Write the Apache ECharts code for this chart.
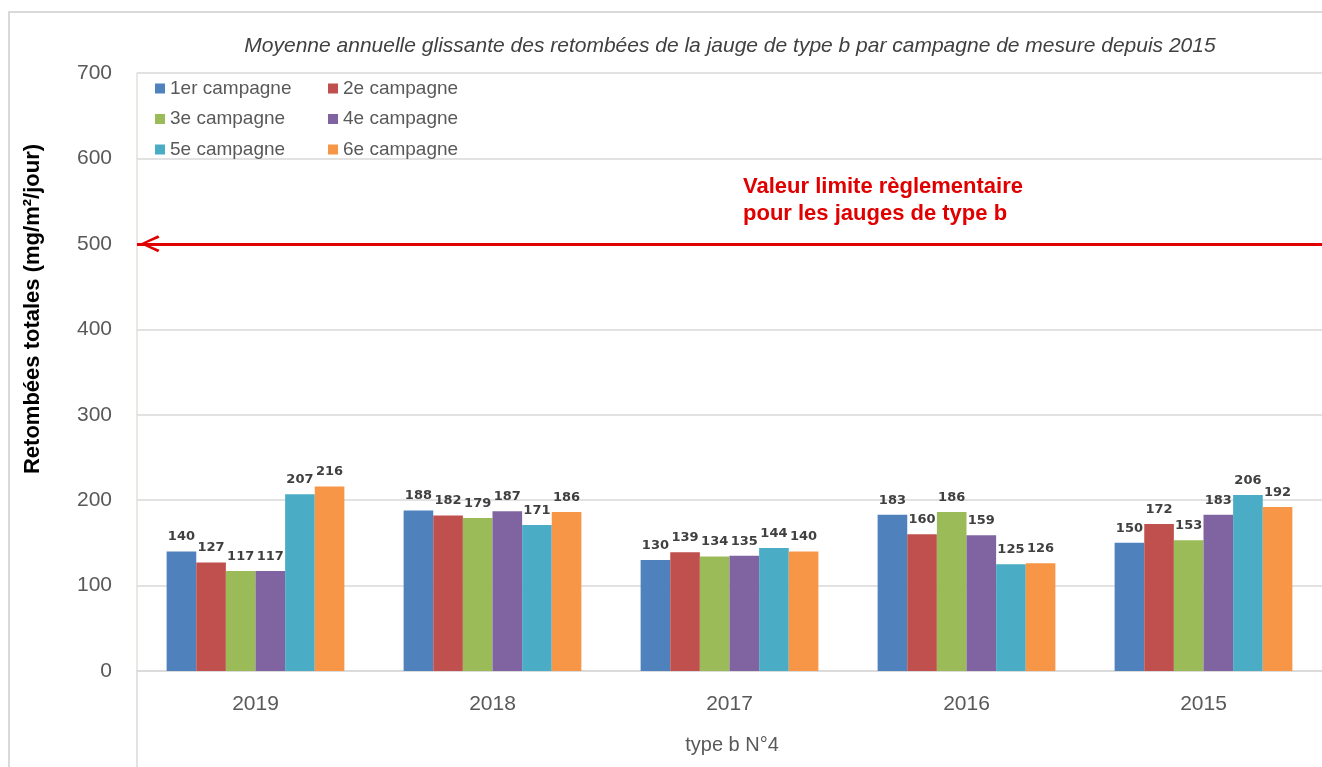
<!DOCTYPE html>
<html>
<head>
<meta charset="utf-8">
<script src="https://cdn.jsdelivr.net/npm/echarts@6/dist/echarts.min.js"></script>
<style>
  html, body { margin: 0; padding: 0; background: #fff; }
  #main { width: 1322px; height: 767px; }
</style>
</head>
<body>
<div id="main"></div>
<script>
// données
var annees = ['2019', '2018', '2017', '2016', '2015'];
var campagnes = ['1er campagne', '2e campagne', '3e campagne', '4e campagne', '5e campagne', '6e campagne'];
var couleurs = ['#4f81bd', '#c0504d', '#9bbb59', '#8064a2', '#4bacc6', '#f79646'];
var camp1 = [140, 188, 130, 183, 150];
var camp2 = [127, 182, 139, 160, 172];
var camp3 = [117, 179, 134, 186, 153];
var camp4 = [117, 187, 135, 159, 183];
var camp5 = [207, 171, 144, 125, 206];
var camp6 = [216, 186, 140, 126, 192];
var valeurLimite = 500;
var yTicks = [0, 100, 200, 300, 400, 500, 600, 700];

var myChart = echarts.init(document.getElementById('main'));
var donnees = [camp1, camp2, camp3, camp4, camp5, camp6];

var series = [];
for (var i = 0; i < campagnes.length; i++) {
  var s = {
    name: campagnes[i],
    type: 'bar',
    data: donnees[i],
    barGap: '0%',
    barCategoryGap: '25%',
    itemStyle: { color: couleurs[i] },
    label: {
      show: true,
      position: 'top',
      distance: 8,
      color: '#404040',
      fontFamily: 'DejaVu Sans',
      fontWeight: 'bold',
      fontSize: 13
    }
  };
  if (i == 0) {
    // ligne de la valeur limite avec flèche ouverte (le point M8.5,-25.5 décale la pointe)
    s.markLine = {
      silent: true,
      symbol: ['path://M8.5,-25.5 M0,18 L8.5,0 L17,18 L14.5,19.5 L8.5,5 L2.5,19.5 Z', 'none'],
      symbolSize: [17, 45],
      label: { show: false },
      lineStyle: { color: '#e00000', width: 3, type: 'solid' },
      data: [{ yAxis: valeurLimite }]
    };
  }
  series.push(s);
}

var legendText = { fontFamily: 'Liberation Sans', fontSize: 19, color: '#595959' };

var option = {
  animation: false,
  title: {
    text: 'Moyenne annuelle glissante des retombées de la jauge de type b par campagne de mesure depuis 2015',
    left: 725,
    textAlign: 'center',
    top: 31,
    textStyle: { fontFamily: 'Liberation Sans', fontStyle: 'italic', fontWeight: 'normal', fontSize: 21, color: '#404040' }
  },
  legend: [
    {
      data: [campagnes[0], campagnes[2], campagnes[4]],
      orient: 'vertical',
      left: 155, top: 79, padding: 0,
      itemWidth: 10, itemHeight: 10, itemGap: 11.5,
      icon: 'rect',
      textStyle: legendText
    },
    {
      data: [campagnes[1], campagnes[3], campagnes[5]],
      orient: 'vertical',
      left: 328, top: 79, padding: 0,
      itemWidth: 10, itemHeight: 10, itemGap: 11.5,
      icon: 'rect',
      textStyle: legendText
    }
  ],
  grid: { left: 137, right: -3, top: 73, bottom: 96, containLabel: false },
  xAxis: {
    type: 'category',
    data: annees,
    axisLine: { lineStyle: { color: '#d9d9d9', width: 1.5 } },
    axisTick: { show: false },
    axisLabel: { margin: 23, fontFamily: 'Liberation Sans', fontSize: 21, color: '#595959' }
  },
  yAxis: {
    type: 'value',
    min: yTicks[0],
    max: yTicks[yTicks.length - 1],
    interval: 100,
    axisLine: { show: true, lineStyle: { color: '#e3e0d8', width: 1.5 } },
    axisTick: { show: false },
    splitLine: { lineStyle: { color: '#d9d9d9', width: 1.5 } },
    axisLabel: { margin: 25, fontFamily: 'Liberation Sans', fontSize: 21, color: '#595959' }
  },
  graphic: [
    {
      type: 'rect', silent: true, z: -1,
      shape: { x: 9, y: 12, width: 1330, height: 780 },
      style: { fill: '#fff', stroke: '#d9d9d9', lineWidth: 2 }
    },
    {
      type: 'line', silent: true,
      shape: { x1: 137, y1: 671, x2: 137, y2: 767 },
      style: { stroke: '#d9d9d9', lineWidth: 1.5 }
    },
    {
      type: 'text', silent: true,
      x: 33, y: 309, rotation: Math.PI / 2,
      style: {
        text: 'Retombées totales (mg/m²/jour)',
        fontFamily: 'Liberation Sans', fontWeight: 'bold', fontSize: 22, fill: '#000',
        align: 'center', verticalAlign: 'middle'
      }
    },
    {
      type: 'text', silent: true,
      x: 732, y: 745,
      style: {
        text: 'type b N°4',
        fontFamily: 'Liberation Sans', fontSize: 20, fill: '#595959',
        align: 'center', verticalAlign: 'middle'
      }
    },
    {
      type: 'text', silent: true,
      x: 743, y: 173,
      style: {
        text: 'Valeur limite règlementaire\npour les jauges de type b',
        fontFamily: 'Liberation Sans', fontWeight: 'bold', fontSize: 22, lineHeight: 27, fill: '#e00000',
        align: 'left', verticalAlign: 'top'
      }
    }
  ],
  series: series
};

myChart.setOption(option);
</script>
</body>
</html>
